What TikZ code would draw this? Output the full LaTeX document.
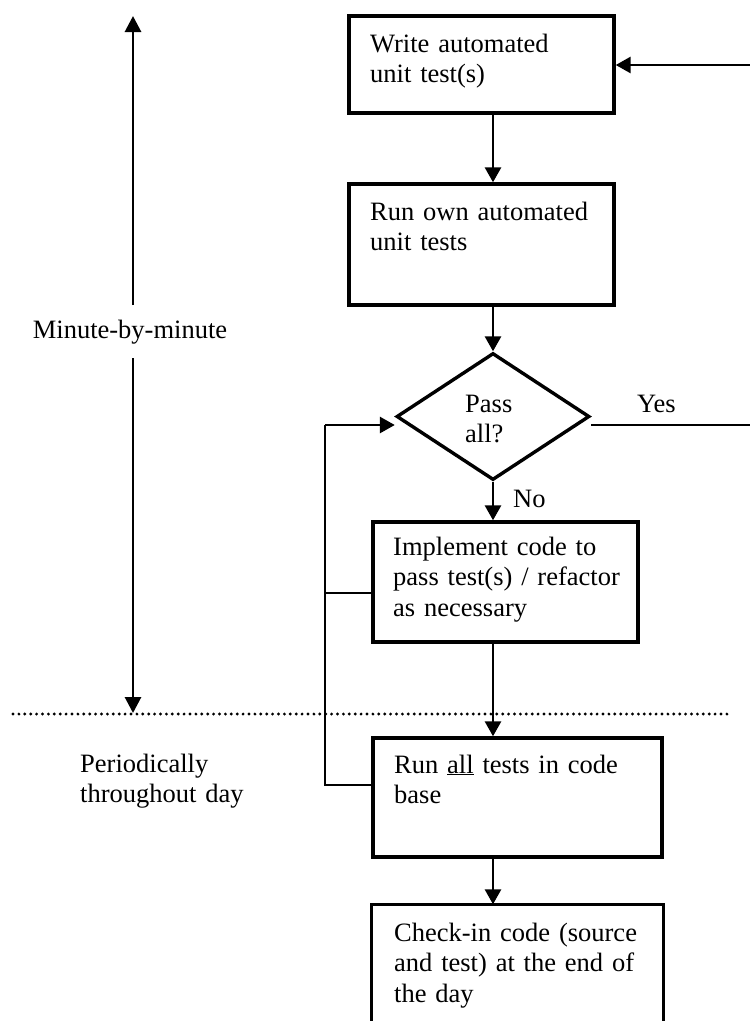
\documentclass[tikz,border=0pt]{standalone}
\usepackage{fontspec}
\setmainfont{Liberation Serif}
\usetikzlibrary{arrows.meta,shapes.geometric,calc}
\begin{document}
\begin{tikzpicture}[x=1pt,y=-1pt,
  box/.style={draw,line width=3.4pt,rectangle,inner sep=0pt},
  dia/.style={draw,line width=3.4pt,diamond,inner sep=0pt,minimum width=193pt,minimum height=127pt},
  lbl/.style={anchor=base west,inner sep=0pt,text width=320pt,align=left,
    font=\fontsize{26.5pt}{30.5pt}\selectfont},
  conn/.style={line width=2.9pt},
  arr/.style={conn,-{Triangle[length=15pt,width=16pt]}},
  dots/.style={line width=3.2pt,line cap=round,dash pattern=on 0pt off 5.9pt}
]
\useasboundingbox (0,0) rectangle (750,1021);

% boxes
\node[box,minimum width=265pt,minimum height=97pt] (b1) at (481.5,64.5) {};
\node[box,minimum width=265pt,minimum height=121pt] (b2) at (481.5,244.5) {};
\node[dia] (d) at (493,416.5) {};
\node[box,minimum width=265pt,minimum height=120pt] (b3) at (505.5,582) {};
\node[box,minimum width=289pt,minimum height=119pt] (b4) at (517.5,797.5) {};
\node[box,draw=none,minimum width=289pt,minimum height=116pt] (b5) at (517.5,964) {};
\draw[line width=3.4pt] (b5.south west) -- (b5.north west) -- (b5.north east) -- (b5.south east);

% texts
\node[lbl] (t1) at (370,52) {Write automated\\unit test(s)};
\node[lbl] (t2) at (370,220) {Run own automated\\unit tests};
\node[lbl] (t3) at (393,555) {Implement code to\\pass test(s) / refactor\\as necessary};
\node[lbl] (t4) at (394,773) {Run \underline{all} tests in code\\base};
\node[lbl] (t5) at (394,941) {Check-in code (source\\and test) at the end of\\the day};
\node[lbl] (tp) at (465,412) {Pass\\all?};
\node[lbl] (ty) at (637,412) {Yes};
\node[lbl] (tn) at (513,507) {No};
\node[lbl,anchor=base,text width=,align=center] (tm) at (130,338) {Minute-by-minute};
\node[lbl] (tper) at (80,772) {Periodically\\throughout day};

% coordinates for free ends
\coordinate (rin) at (750,65);
\coordinate (rout) at (750,425);
\coordinate (ltop) at (133,16);
\coordinate (lm1) at (133,305);
\coordinate (lm2) at (133,358);
\coordinate (lbot) at (133,713);
\coordinate (dl) at (13,714);
\coordinate (dr) at (728,714);
\coordinate (L1) at (325,425);
\coordinate (L3) at (325,593);
\coordinate (L4) at (325,785);

% main flow
\draw[arr] (rin) -- (b1.east |- rin);
\draw[arr] (d |- b1.south) -- (d |- b2.north);
\draw[arr] (d |- b2.south) -- (d.north);
\draw[arr] (d.south) -- (d |- b3.north);
\draw[arr] (d |- b3.south) -- (d |- b4.north);
\draw[arr] (d |- b4.south) -- (d |- b5.north);
\draw[conn] (d.east |- rout) -- (rout);

% loop back
\draw[conn] (b4.west |- L4) -- (L4) -- (L1);
\draw[conn] (b3.west |- L3) -- (L3);
\draw[arr] (L1) -- (d.west |- L1);

% left time arrow
\draw[conn,-{Triangle[length=16pt,width=16pt]}] (lm1) -- (ltop);
\draw[conn,-{Triangle[length=16pt,width=16pt]}] (lm2) -- (lbot);

% dotted separator
\draw[dots] (dl) -- (dr);
\end{tikzpicture}
\end{document}
